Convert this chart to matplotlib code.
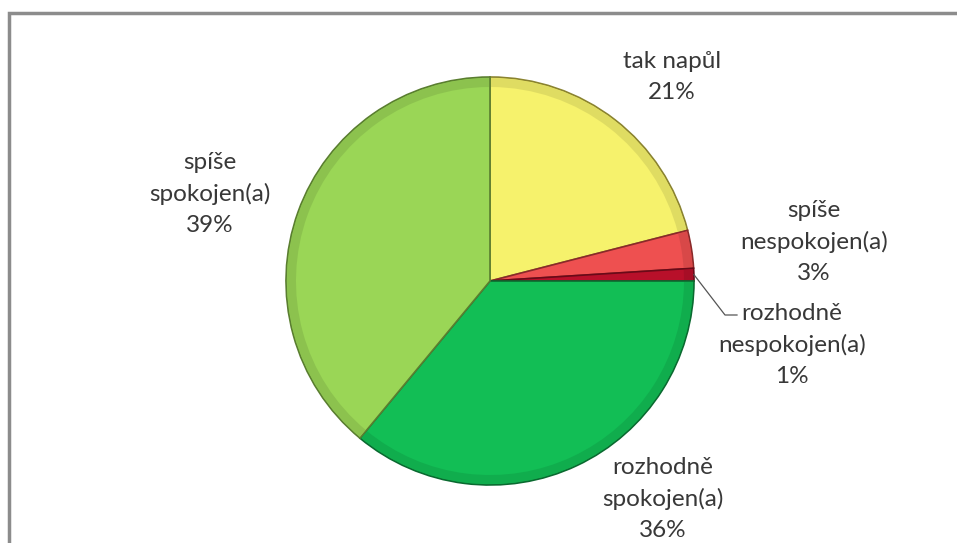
import matplotlib
matplotlib.use("Agg")
import matplotlib.pyplot as plt
import matplotlib.patches as mp
import numpy as np

categories = ["tak napůl", "spíše\nnespokojen(a)", "rozhodně\nnespokojen(a)",
              "rozhodně\nspokojen(a)", "spíše\nspokojen(a)"]
values = [21, 3, 1, 36, 39]
colors = ["#F6F26C", "#EE5050", "#B8102A", "#12BE55", "#9AD656"]
edge_colors = ["#8A8330", "#8A2A2A", "#6A0A18", "#0A6A30", "#5A7E30"]

W, H = 957, 543
fig = plt.figure(figsize=(W / 100, H / 100), dpi=100)
ax = fig.add_axes([0, 0, 1, 1])

cx, cy, r = 490, H - 281, 204

wedges, _ = ax.pie(values, colors=colors, startangle=90, counterclock=False,
                   center=(cx, cy), radius=r, frame=True,
                   wedgeprops=dict(linewidth=1.2))
for w, ec in zip(wedges, edge_colors):
    w.set_edgecolor(ec)

# subtle bevel: darker rim ring
for w, c in zip(wedges, colors):
    t1, t2 = w.theta1, w.theta2
    rgb = np.array(matplotlib.colors.to_rgb(c))
    dark = tuple(rgb * 0.85)
    ring = mp.Wedge((cx, cy), r - 1, t1 + 0.3, t2 - 0.3, width=9,
                    facecolor=dark, edgecolor="none", alpha=0.6, zorder=2)
    ax.add_patch(ring)

ax.set_xlim(0, W)
ax.set_ylim(0, H)
ax.set_aspect("equal")
ax.axis("off")

font = dict(family=["Lato", "DejaVu Sans"], fontsize=17.5, color="#383838",
            ha="center", va="center", linespacing=1.56)

label_pos = [(672, 77), (814, 242), (792, 345), (663, 499), (210, 194)]
for (x, y), cat, v in zip(label_pos, categories, values):
    ax.text(x, H - y, f"{cat}\n{v}%", **font)

# leader line for the smallest slice
w = wedges[2]
mid = np.deg2rad((w.theta1 + w.theta2) / 2)
px, py = cx + r * np.cos(mid), cy + r * np.sin(mid)
ax.plot([px, 725, 737], [py, H - 315, H - 315], color="#555555", lw=0.9, zorder=5)

# chart border
ax.plot([9, 9, W], [0, H - 13, H - 13], color="#8C8C8C", lw=2.5,
        solid_capstyle="butt", solid_joinstyle="miter")

fig.savefig("out.png", dpi=100, facecolor="white")
